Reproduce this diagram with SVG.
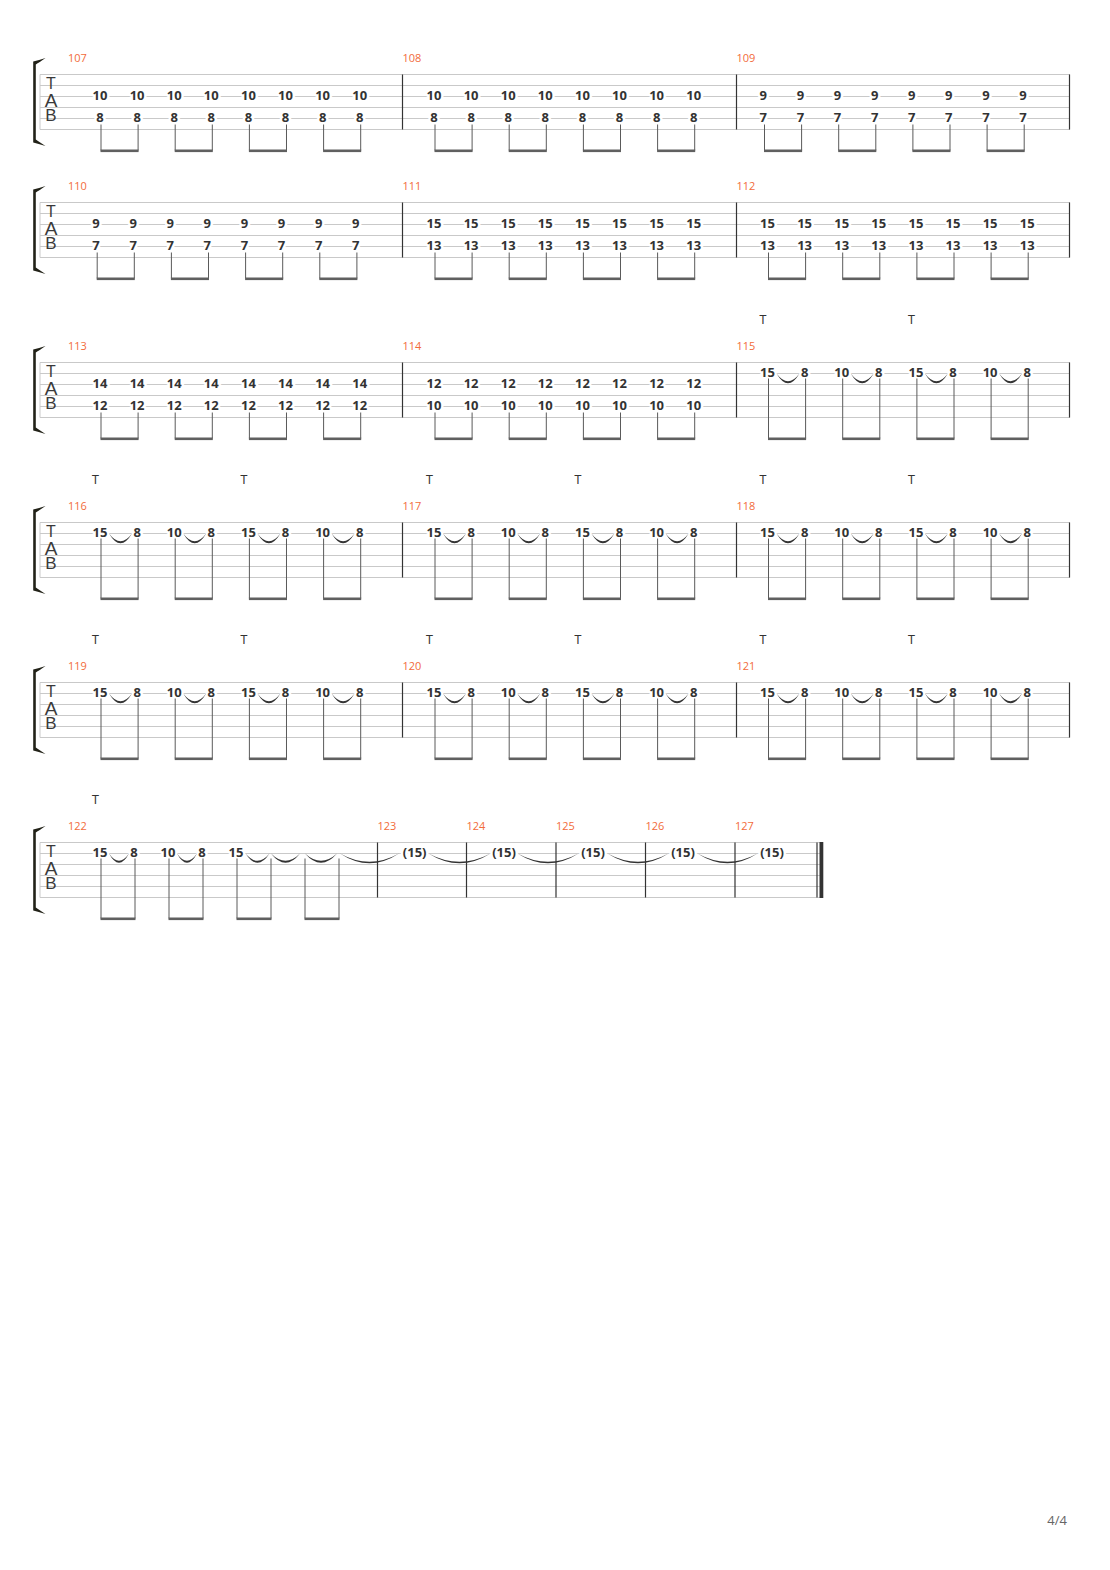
<svg xmlns="http://www.w3.org/2000/svg" width="1110" height="1570" viewBox="0 0 1110 1570">
<style>
.st{stroke:#c9c9c9;stroke-width:1;fill:none}
.bar{stroke:#333;stroke-width:1.2}
.n{font-family:"Open Sans","Liberation Sans",sans-serif;font-weight:bold;font-size:13px;fill:#333;text-anchor:middle;stroke:#fff;stroke-width:5;paint-order:stroke;stroke-linejoin:round}
.mn{font-family:"Open Sans","Liberation Sans",sans-serif;font-size:11px;fill:#f26b3a}
.t{font-family:"Liberation Sans",sans-serif;font-size:12px;fill:#333;text-anchor:middle}
.tab{font-family:"Liberation Sans",sans-serif;fill:#3a3a3a;text-anchor:middle}
.stem{stroke:#5a5a5a;stroke-width:1}
.beam{fill:#606060}
.sl{fill:#333}
.br{fill:#222218}
.pg{font-family:"Open Sans","Liberation Sans",sans-serif;font-size:13px;fill:#666;text-anchor:end}
</style>
<defs>
<g id="pl"><line class="stem" x1="0" y1="50" x2="0" y2="76"/><line class="stem" x1="37.1" y1="50" x2="37.1" y2="76"/><rect class="beam" x="-0.5" y="75" width="38.1" height="2.6"/></g>
<g id="ph"><line class="stem" x1="0" y1="16" x2="0" y2="76"/><line class="stem" x1="37.1" y1="16" x2="37.1" y2="76"/><rect class="beam" x="-0.5" y="75" width="38.1" height="2.6"/></g>
<g id="ph6"><line class="stem" x1="0" y1="16" x2="0" y2="76"/><line class="stem" x1="34" y1="16" x2="34" y2="76"/><rect class="beam" x="-0.5" y="75" width="35" height="2.6"/></g>
<path id="sl" d="M0 0 Q11.5 19.5 23 0 Q11.5 15.5 0 0Z"/>
<g id="clef">
<path class="br" d="M33.2 -13 Q38 -14 45.5 -16.5 Q39 -12 35.8 -10 L35.8 65 Q39 67 45.5 71.5 Q38 69 33.2 68 Z"/>
<text class="tab"><tspan x="51" y="14.2" font-size="16">T</tspan><tspan x="51" y="32.6" font-size="19">A</tspan><tspan x="51" y="46.6" font-size="17">B</tspan></text>
</g>
<g id="staff5"><path class="st" d="M40 0H1070M40 11H1070M40 22H1070M40 33H1070M40 44H1070M40 55H1070M40 0V55"/>
<line class="bar" x1="402.5" y1="0" x2="402.5" y2="55"/><line class="bar" x1="736.5" y1="0" x2="736.5" y2="55"/><line class="bar" x1="1069.5" y1="0" x2="1069.5" y2="55"/>
<use href="#clef"/>
</g>
</defs>

<g id="staves">
<use href="#staff5" x="0" y="74.5"/>
<use href="#staff5" x="0" y="202.5"/>
<use href="#staff5" x="0" y="362.5"/>
<use href="#staff5" x="0" y="522.5"/>
<use href="#staff5" x="0" y="682.5"/>
<g id="staff6">
<path class="st" d="M40 842.5H823M40 853.5H823M40 864.5H823M40 875.5H823M40 886.5H823M40 897.5H823M40 842.5V897.5"/>
<line class="bar" x1="377.5" y1="842.5" x2="377.5" y2="897.5"/>
<line class="bar" x1="466.5" y1="842.5" x2="466.5" y2="897.5"/>
<line class="bar" x1="556" y1="842.5" x2="556" y2="897.5"/>
<line class="bar" x1="645.5" y1="842.5" x2="645.5" y2="897.5"/>
<line class="bar" x1="735" y1="842.5" x2="735" y2="897.5"/>
<line class="bar" x1="817" y1="842.5" x2="817" y2="897.5"/>
<rect x="819.5" y="842" width="3.8" height="56" fill="#333"/>
<use href="#clef" x="0" y="842.5"/>
</g>
</g>

<g id="m107">
<text class="mn" x="68" y="62">107</text>
<text class="n" x="100" y="99.5">10</text><text class="n" x="137.1" y="99.5">10</text><text class="n" x="174.2" y="99.5">10</text><text class="n" x="211.3" y="99.5">10</text><text class="n" x="248.4" y="99.5">10</text><text class="n" x="285.5" y="99.5">10</text><text class="n" x="322.6" y="99.5">10</text><text class="n" x="359.7" y="99.5">10</text>
<text class="n" x="100" y="121.5">8</text><text class="n" x="137.1" y="121.5">8</text><text class="n" x="174.2" y="121.5">8</text><text class="n" x="211.3" y="121.5">8</text><text class="n" x="248.4" y="121.5">8</text><text class="n" x="285.5" y="121.5">8</text><text class="n" x="322.6" y="121.5">8</text><text class="n" x="359.7" y="121.5">8</text>
<use href="#pl" x="101" y="74.5"/><use href="#pl" x="175.2" y="74.5"/><use href="#pl" x="249.4" y="74.5"/><use href="#pl" x="323.6" y="74.5"/>
</g>
<g id="m108">
<text class="mn" x="402.5" y="62">108</text>
<text class="n" x="434" y="99.5">10</text><text class="n" x="471.1" y="99.5">10</text><text class="n" x="508.2" y="99.5">10</text><text class="n" x="545.3" y="99.5">10</text><text class="n" x="582.4" y="99.5">10</text><text class="n" x="619.5" y="99.5">10</text><text class="n" x="656.6" y="99.5">10</text><text class="n" x="693.7" y="99.5">10</text>
<text class="n" x="434" y="121.5">8</text><text class="n" x="471.1" y="121.5">8</text><text class="n" x="508.2" y="121.5">8</text><text class="n" x="545.3" y="121.5">8</text><text class="n" x="582.4" y="121.5">8</text><text class="n" x="619.5" y="121.5">8</text><text class="n" x="656.6" y="121.5">8</text><text class="n" x="693.7" y="121.5">8</text>
<use href="#pl" x="435" y="74.5"/><use href="#pl" x="509.2" y="74.5"/><use href="#pl" x="583.4" y="74.5"/><use href="#pl" x="657.6" y="74.5"/>
</g>
<g id="m109">
<text class="mn" x="736.5" y="62">109</text>
<text class="n" x="763.3" y="99.5">9</text><text class="n" x="800.4" y="99.5">9</text><text class="n" x="837.5" y="99.5">9</text><text class="n" x="874.6" y="99.5">9</text><text class="n" x="911.7" y="99.5">9</text><text class="n" x="948.8" y="99.5">9</text><text class="n" x="985.9" y="99.5">9</text><text class="n" x="1023" y="99.5">9</text>
<text class="n" x="763.3" y="121.5">7</text><text class="n" x="800.4" y="121.5">7</text><text class="n" x="837.5" y="121.5">7</text><text class="n" x="874.6" y="121.5">7</text><text class="n" x="911.7" y="121.5">7</text><text class="n" x="948.8" y="121.5">7</text><text class="n" x="985.9" y="121.5">7</text><text class="n" x="1023" y="121.5">7</text>
<use href="#pl" x="764.5" y="74.5"/><use href="#pl" x="838.7" y="74.5"/><use href="#pl" x="912.9" y="74.5"/><use href="#pl" x="987.1" y="74.5"/>
</g>

<g id="m110">
<text class="mn" x="68" y="190">110</text>
<text class="n" x="96" y="227.5">9</text><text class="n" x="133.1" y="227.5">9</text><text class="n" x="170.2" y="227.5">9</text><text class="n" x="207.3" y="227.5">9</text><text class="n" x="244.4" y="227.5">9</text><text class="n" x="281.5" y="227.5">9</text><text class="n" x="318.6" y="227.5">9</text><text class="n" x="355.7" y="227.5">9</text>
<text class="n" x="96" y="249.5">7</text><text class="n" x="133.1" y="249.5">7</text><text class="n" x="170.2" y="249.5">7</text><text class="n" x="207.3" y="249.5">7</text><text class="n" x="244.4" y="249.5">7</text><text class="n" x="281.5" y="249.5">7</text><text class="n" x="318.6" y="249.5">7</text><text class="n" x="355.7" y="249.5">7</text>
<use href="#pl" x="97.2" y="202.5"/><use href="#pl" x="171.4" y="202.5"/><use href="#pl" x="245.6" y="202.5"/><use href="#pl" x="319.8" y="202.5"/>
</g>
<g id="m111">
<text class="mn" x="402.5" y="190">111</text>
<text class="n" x="434" y="227.5">15</text><text class="n" x="471.1" y="227.5">15</text><text class="n" x="508.2" y="227.5">15</text><text class="n" x="545.3" y="227.5">15</text><text class="n" x="582.4" y="227.5">15</text><text class="n" x="619.5" y="227.5">15</text><text class="n" x="656.6" y="227.5">15</text><text class="n" x="693.7" y="227.5">15</text>
<text class="n" x="434" y="249.5">13</text><text class="n" x="471.1" y="249.5">13</text><text class="n" x="508.2" y="249.5">13</text><text class="n" x="545.3" y="249.5">13</text><text class="n" x="582.4" y="249.5">13</text><text class="n" x="619.5" y="249.5">13</text><text class="n" x="656.6" y="249.5">13</text><text class="n" x="693.7" y="249.5">13</text>
<use href="#pl" x="435" y="202.5"/><use href="#pl" x="509.2" y="202.5"/><use href="#pl" x="583.4" y="202.5"/><use href="#pl" x="657.6" y="202.5"/>
</g>
<g id="m112">
<text class="mn" x="736.5" y="190">112</text>
<text class="n" x="767.5" y="227.5">15</text><text class="n" x="804.6" y="227.5">15</text><text class="n" x="841.7" y="227.5">15</text><text class="n" x="878.8" y="227.5">15</text><text class="n" x="915.9" y="227.5">15</text><text class="n" x="953" y="227.5">15</text><text class="n" x="990.1" y="227.5">15</text><text class="n" x="1027.2" y="227.5">15</text>
<text class="n" x="767.5" y="249.5">13</text><text class="n" x="804.6" y="249.5">13</text><text class="n" x="841.7" y="249.5">13</text><text class="n" x="878.8" y="249.5">13</text><text class="n" x="915.9" y="249.5">13</text><text class="n" x="953" y="249.5">13</text><text class="n" x="990.1" y="249.5">13</text><text class="n" x="1027.2" y="249.5">13</text>
<use href="#pl" x="768.5" y="202.5"/><use href="#pl" x="842.7" y="202.5"/><use href="#pl" x="916.9" y="202.5"/><use href="#pl" x="991.1" y="202.5"/>
</g>

<g id="m113">
<text class="mn" x="68" y="350">113</text>
<text class="n" x="100" y="387.5">14</text><text class="n" x="137.1" y="387.5">14</text><text class="n" x="174.2" y="387.5">14</text><text class="n" x="211.3" y="387.5">14</text><text class="n" x="248.4" y="387.5">14</text><text class="n" x="285.5" y="387.5">14</text><text class="n" x="322.6" y="387.5">14</text><text class="n" x="359.7" y="387.5">14</text>
<text class="n" x="100" y="409.5">12</text><text class="n" x="137.1" y="409.5">12</text><text class="n" x="174.2" y="409.5">12</text><text class="n" x="211.3" y="409.5">12</text><text class="n" x="248.4" y="409.5">12</text><text class="n" x="285.5" y="409.5">12</text><text class="n" x="322.6" y="409.5">12</text><text class="n" x="359.7" y="409.5">12</text>
<use href="#pl" x="101" y="362.5"/><use href="#pl" x="175.2" y="362.5"/><use href="#pl" x="249.4" y="362.5"/><use href="#pl" x="323.6" y="362.5"/>
</g>
<g id="m114">
<text class="mn" x="402.5" y="350">114</text>
<text class="n" x="434" y="387.5">12</text><text class="n" x="471.1" y="387.5">12</text><text class="n" x="508.2" y="387.5">12</text><text class="n" x="545.3" y="387.5">12</text><text class="n" x="582.4" y="387.5">12</text><text class="n" x="619.5" y="387.5">12</text><text class="n" x="656.6" y="387.5">12</text><text class="n" x="693.7" y="387.5">12</text>
<text class="n" x="434" y="409.5">10</text><text class="n" x="471.1" y="409.5">10</text><text class="n" x="508.2" y="409.5">10</text><text class="n" x="545.3" y="409.5">10</text><text class="n" x="582.4" y="409.5">10</text><text class="n" x="619.5" y="409.5">10</text><text class="n" x="656.6" y="409.5">10</text><text class="n" x="693.7" y="409.5">10</text>
<use href="#pl" x="435" y="362.5"/><use href="#pl" x="509.2" y="362.5"/><use href="#pl" x="583.4" y="362.5"/><use href="#pl" x="657.6" y="362.5"/>
</g>
<g id="m115">
<text class="mn" x="736.5" y="350">115</text>
<text class="t" x="763" y="324">T</text><text class="t" x="911.4" y="324">T</text>
<text class="n" x="767.5" y="376.5">15</text><text class="n" x="804.6" y="376.5">8</text><text class="n" x="841.7" y="376.5">10</text><text class="n" x="878.8" y="376.5">8</text><text class="n" x="915.9" y="376.5">15</text><text class="n" x="953" y="376.5">8</text><text class="n" x="990.1" y="376.5">10</text><text class="n" x="1027.2" y="376.5">8</text>
<use href="#ph" x="768.5" y="362.5"/><use href="#ph" x="842.7" y="362.5"/><use href="#ph" x="916.9" y="362.5"/><use href="#ph" x="991.1" y="362.5"/>
</g>

<g id="m116">
<text class="mn" x="68" y="510">116</text>
<text class="t" x="95.5" y="484">T</text><text class="t" x="243.9" y="484">T</text>
<text class="n" x="100" y="536.5">15</text><text class="n" x="137.1" y="536.5">8</text><text class="n" x="174.2" y="536.5">10</text><text class="n" x="211.3" y="536.5">8</text><text class="n" x="248.4" y="536.5">15</text><text class="n" x="285.5" y="536.5">8</text><text class="n" x="322.6" y="536.5">10</text><text class="n" x="359.7" y="536.5">8</text>
<use href="#ph" x="101" y="522.5"/><use href="#ph" x="175.2" y="522.5"/><use href="#ph" x="249.4" y="522.5"/><use href="#ph" x="323.6" y="522.5"/>
</g>
<g id="m117">
<text class="mn" x="402.5" y="510">117</text>
<text class="t" x="429.5" y="484">T</text><text class="t" x="577.9" y="484">T</text>
<text class="n" x="434" y="536.5">15</text><text class="n" x="471.1" y="536.5">8</text><text class="n" x="508.2" y="536.5">10</text><text class="n" x="545.3" y="536.5">8</text><text class="n" x="582.4" y="536.5">15</text><text class="n" x="619.5" y="536.5">8</text><text class="n" x="656.6" y="536.5">10</text><text class="n" x="693.7" y="536.5">8</text>
<use href="#ph" x="435" y="522.5"/><use href="#ph" x="509.2" y="522.5"/><use href="#ph" x="583.4" y="522.5"/><use href="#ph" x="657.6" y="522.5"/>
</g>
<g id="m118">
<text class="mn" x="736.5" y="510">118</text>
<text class="t" x="763" y="484">T</text><text class="t" x="911.4" y="484">T</text>
<text class="n" x="767.5" y="536.5">15</text><text class="n" x="804.6" y="536.5">8</text><text class="n" x="841.7" y="536.5">10</text><text class="n" x="878.8" y="536.5">8</text><text class="n" x="915.9" y="536.5">15</text><text class="n" x="953" y="536.5">8</text><text class="n" x="990.1" y="536.5">10</text><text class="n" x="1027.2" y="536.5">8</text>
<use href="#ph" x="768.5" y="522.5"/><use href="#ph" x="842.7" y="522.5"/><use href="#ph" x="916.9" y="522.5"/><use href="#ph" x="991.1" y="522.5"/>
</g>

<g id="m119">
<text class="mn" x="68" y="670">119</text>
<text class="t" x="95.5" y="644">T</text><text class="t" x="243.9" y="644">T</text>
<text class="n" x="100" y="696.5">15</text><text class="n" x="137.1" y="696.5">8</text><text class="n" x="174.2" y="696.5">10</text><text class="n" x="211.3" y="696.5">8</text><text class="n" x="248.4" y="696.5">15</text><text class="n" x="285.5" y="696.5">8</text><text class="n" x="322.6" y="696.5">10</text><text class="n" x="359.7" y="696.5">8</text>
<use href="#ph" x="101" y="682.5"/><use href="#ph" x="175.2" y="682.5"/><use href="#ph" x="249.4" y="682.5"/><use href="#ph" x="323.6" y="682.5"/>
</g>
<g id="m120">
<text class="mn" x="402.5" y="670">120</text>
<text class="t" x="429.5" y="644">T</text><text class="t" x="577.9" y="644">T</text>
<text class="n" x="434" y="696.5">15</text><text class="n" x="471.1" y="696.5">8</text><text class="n" x="508.2" y="696.5">10</text><text class="n" x="545.3" y="696.5">8</text><text class="n" x="582.4" y="696.5">15</text><text class="n" x="619.5" y="696.5">8</text><text class="n" x="656.6" y="696.5">10</text><text class="n" x="693.7" y="696.5">8</text>
<use href="#ph" x="435" y="682.5"/><use href="#ph" x="509.2" y="682.5"/><use href="#ph" x="583.4" y="682.5"/><use href="#ph" x="657.6" y="682.5"/>
</g>
<g id="m121">
<text class="mn" x="736.5" y="670">121</text>
<text class="t" x="763" y="644">T</text><text class="t" x="911.4" y="644">T</text>
<text class="n" x="767.5" y="696.5">15</text><text class="n" x="804.6" y="696.5">8</text><text class="n" x="841.7" y="696.5">10</text><text class="n" x="878.8" y="696.5">8</text><text class="n" x="915.9" y="696.5">15</text><text class="n" x="953" y="696.5">8</text><text class="n" x="990.1" y="696.5">10</text><text class="n" x="1027.2" y="696.5">8</text>
<use href="#ph" x="768.5" y="682.5"/><use href="#ph" x="842.7" y="682.5"/><use href="#ph" x="916.9" y="682.5"/><use href="#ph" x="991.1" y="682.5"/>
</g>

<g id="m122">
<text class="mn" x="68" y="830">122</text>
<text class="t" x="95.5" y="804">T</text>
<text class="n" x="100" y="856.5">15</text><text class="n" x="134" y="856.5">8</text><text class="n" x="168" y="856.5">10</text><text class="n" x="202" y="856.5">8</text><text class="n" x="236" y="856.5">15</text>
<use href="#ph6" x="101" y="842.5"/><use href="#ph6" x="169" y="842.5"/><use href="#ph6" x="237" y="842.5"/><use href="#ph6" x="305" y="842.5"/>
</g>
<g id="m123"><text class="mn" x="377.5" y="830">123</text><text class="n" x="414.7" y="856.5">(15)</text></g>
<g id="m124"><text class="mn" x="466.5" y="830">124</text><text class="n" x="504" y="856.5">(15)</text></g>
<g id="m125"><text class="mn" x="556" y="830">125</text><text class="n" x="593" y="856.5">(15)</text></g>
<g id="m126"><text class="mn" x="645.5" y="830">126</text><text class="n" x="683" y="856.5">(15)</text></g>
<g id="m127"><text class="mn" x="735" y="830">127</text><text class="n" x="772" y="856.5">(15)</text></g>

<g id="connectors" class="sl">
<use href="#sl" x="776.5" y="373.5"/><use href="#sl" x="850.7" y="373.5"/><use href="#sl" x="924.9" y="373.5"/><use href="#sl" x="999.1" y="373.5"/>
<use href="#sl" x="109" y="533.5"/><use href="#sl" x="183.2" y="533.5"/><use href="#sl" x="257.4" y="533.5"/><use href="#sl" x="331.6" y="533.5"/>
<use href="#sl" x="443" y="533.5"/><use href="#sl" x="517.2" y="533.5"/><use href="#sl" x="591.4" y="533.5"/><use href="#sl" x="665.6" y="533.5"/>
<use href="#sl" x="776.5" y="533.5"/><use href="#sl" x="850.7" y="533.5"/><use href="#sl" x="924.9" y="533.5"/><use href="#sl" x="999.1" y="533.5"/>
<use href="#sl" x="109" y="693.5"/><use href="#sl" x="183.2" y="693.5"/><use href="#sl" x="257.4" y="693.5"/><use href="#sl" x="331.6" y="693.5"/>
<use href="#sl" x="443" y="693.5"/><use href="#sl" x="517.2" y="693.5"/><use href="#sl" x="591.4" y="693.5"/><use href="#sl" x="665.6" y="693.5"/>
<use href="#sl" x="776.5" y="693.5"/><use href="#sl" x="850.7" y="693.5"/><use href="#sl" x="924.9" y="693.5"/><use href="#sl" x="999.1" y="693.5"/>
<path d="M109 853.5 Q119 872 129 853.5 Q119 868 109 853.5Z"/>
<path d="M177 853.5 Q187 872 197 853.5 Q187 868 177 853.5Z"/>
<path d="M245.5 853.5 Q257.5 872 269.5 853.5 Q257.5 868 245.5 853.5Z"/>
<path d="M271 853.5 Q285.5 872 300 853.5 Q285.5 868 271 853.5Z"/>
<path d="M305 853.5 Q321 872 337 853.5 Q321 868 305 853.5Z"/>
<path d="M340 853.5 Q369.5 873 399 853.5 Q369.5 870 340 853.5Z"/>
<path d="M428.5 853.5 Q459.5 873 490.5 853.5 Q459.5 870 428.5 853.5Z"/>
<path d="M517.5 853.5 Q548 873 578.5 853.5 Q548 870 517.5 853.5Z"/>
<path d="M607.5 853.5 Q638 873 668.5 853.5 Q638 870 607.5 853.5Z"/>
<path d="M697.5 853.5 Q727.5 873 757.5 853.5 Q727.5 870 697.5 853.5Z"/>
</g>

<text class="pg" x="1067" y="1525">4/4</text>
</svg>
